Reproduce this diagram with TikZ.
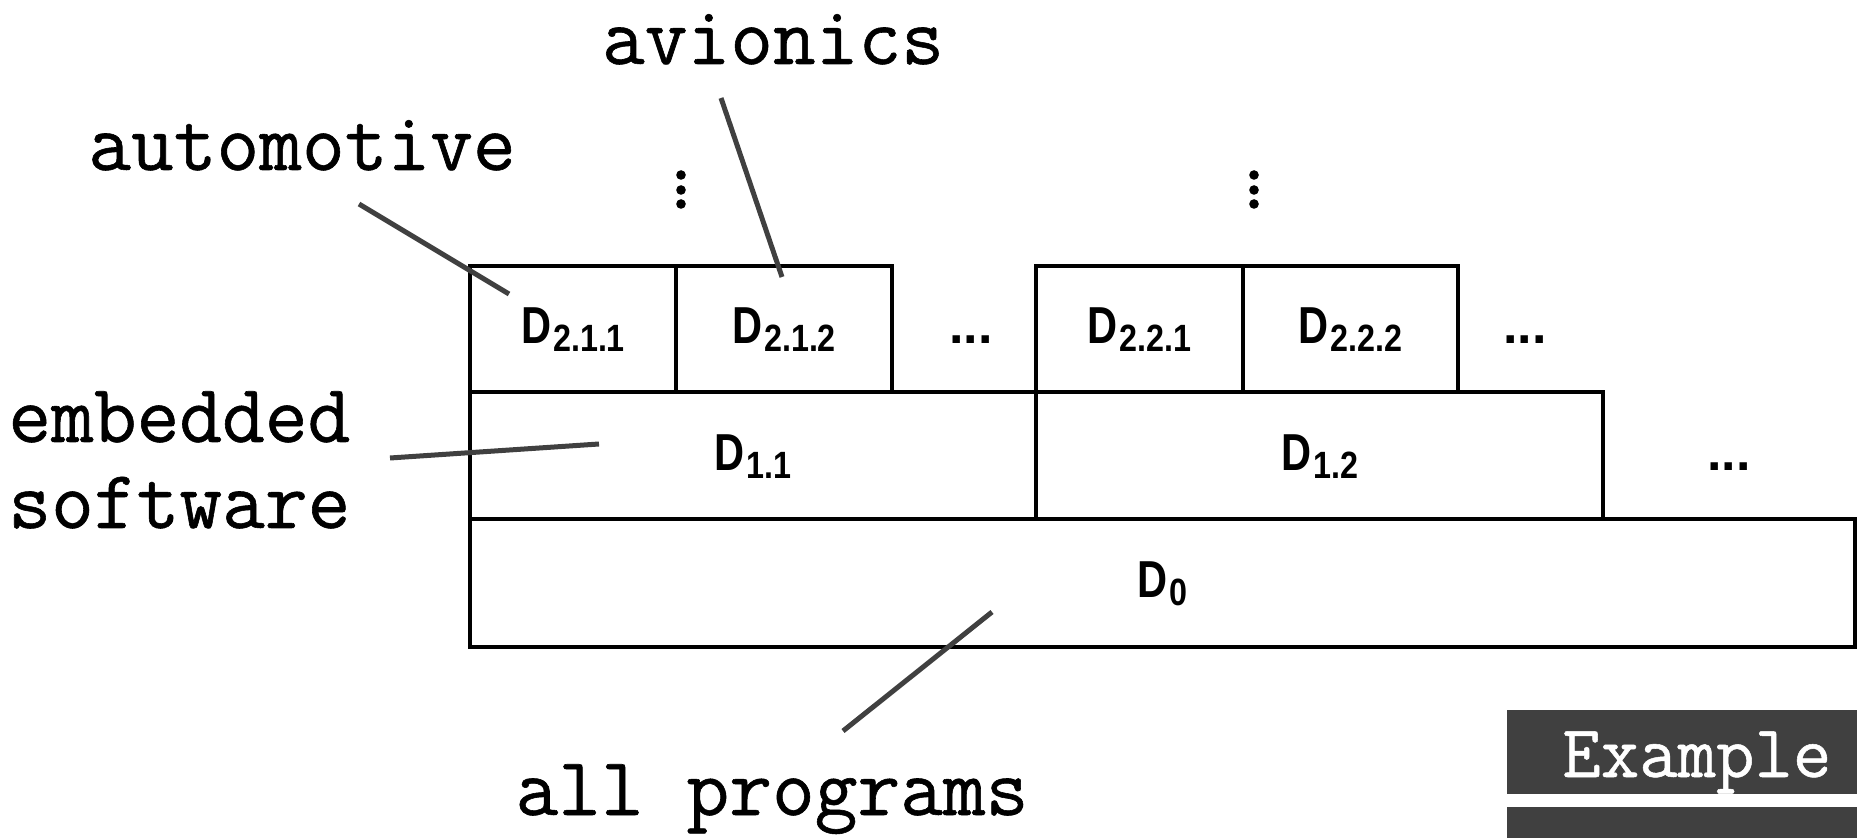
\documentclass[tikz,border=0pt]{standalone}
\usepackage{graphicx}
\usepackage{fontspec}
\newfontfamily\labelsans{Liberation Sans}
\newfontfamily\typewriter{Latin Modern Mono}[FakeBold=0.7]
\definecolor{leader}{HTML}{404040}
\definecolor{tagfill}{HTML}{404040}
% domain label: condensed bold D with a deep subscript
\newcommand\dlab[1]{\scalebox{0.8}[1]{D}\kern1pt\raisebox{-4pt}{\scalebox{0.85}[1]{\fontsize{19}{19}\selectfont #1}}}

\begin{document}
\begin{tikzpicture}[x=0.5pt,y=-0.5pt,
  cell/.style={draw=black, line width=1.75pt, inner sep=0pt, outer sep=0pt,
    minimum height=63pt, anchor=north west,
    font=\labelsans\bfseries\fontsize{26}{26}\selectfont,
    text height=18.6pt, text depth=4pt},
  more/.style={inner sep=0pt,
    font=\labelsans\bfseries\fontsize{26}{26}\selectfont,
    text height=18.6pt, text depth=4pt},
  tag/.style={inner sep=0pt, font=\typewriter\fontsize{41.5}{41.5}\selectfont},
  leaderline/.style={draw=leader, line width=2.5pt},
]
\useasboundingbox (0,0) rectangle (1857,838);

% level 2
\node[cell, minimum width=103pt]   (d211) at (470,266)  {\dlab{2.1.1}};
\node[cell, minimum width=108pt]   (d212) at (676,266)  {\dlab{2.1.2}};
\node[cell, minimum width=103.5pt] (d221) at (1036,266) {\dlab{2.2.1}};
\node[cell, minimum width=107.5pt] (d222) at (1243,266) {\dlab{2.2.2}};
% level 1
\node[cell, minimum width=283pt, minimum height=63.5pt]   (d11) at (470,392)  {\dlab{1.1}};
\node[cell, minimum width=283.5pt, minimum height=63.5pt] (d12) at (1036,392) {\dlab{1.2}};
% level 0
\node[cell, minimum width=692.5pt, minimum height=64pt] (d0) at (470,519) {\dlab{0}};

% continuation marks
\node[more] (m1) at (971,329)  {...};
\node[more] (m2) at (1525,329) {...};
\node[more] (m3) at (1729,455.5) {...};
\foreach \y in {175,190,204} {
  \fill (681,\y) circle (2.4pt);
  \fill (1254,\y) circle (2.4pt);
}

% labels
\node[tag, anchor=base] (avi) at (773,64) {avionics};
\node[tag, anchor=base] (auto) at (302,170) {automotive};
\node[tag, anchor=base west] (emb) at (8,442) {embedded};
\node[tag, anchor=base west] (sw) at (8,528) {software};
\node[tag, anchor=base] (all) at (772,815) {all programs};

% leader lines
\coordinate (autoA) at (359,204);  \coordinate (autoB) at (509,294);
\coordinate (aviA) at (721,98);    \coordinate (aviB) at (782,277);
\coordinate (embA) at (390,458);   \coordinate (embB) at (599,444);
\coordinate (allA) at (843,731);   \coordinate (allB) at (992,612);
\draw[leaderline] (autoA) -- (autoB);
\draw[leaderline] (aviA) -- (aviB);
\draw[leaderline] (embA) -- (embB);
\draw[leaderline] (allA) -- (allB);

% example tag
\fill[tagfill] (1507,710) rectangle (1857,794);
\fill[tagfill] (1507,807) rectangle (1857,838);
\node[inner sep=0pt, anchor=base west, text=white,
  font=\typewriter\fontsize{37.3}{37.3}\selectfont] (ex) at (1562,777) {Example};
\end{tikzpicture}
\end{document}
